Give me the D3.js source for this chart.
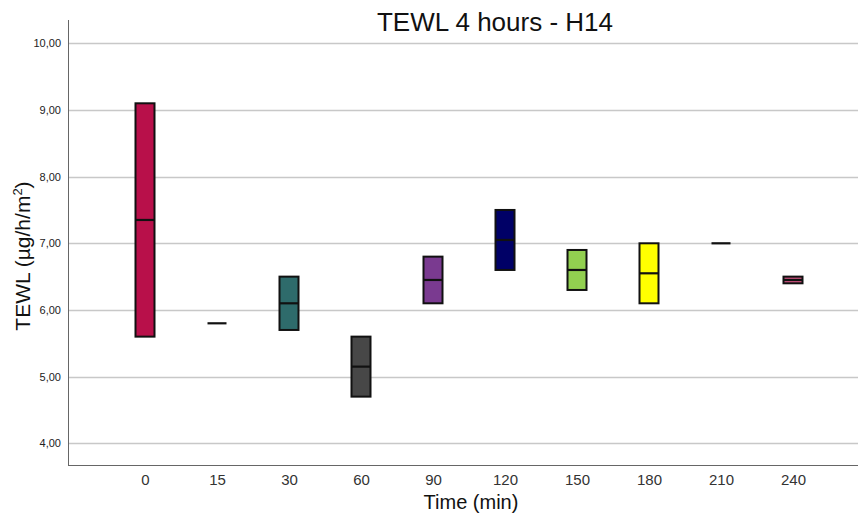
<!DOCTYPE html>
<html>
<head>
<meta charset="utf-8">
<script src="https://cdn.jsdelivr.net/npm/d3@7"></script>
<style>
  html, body { margin: 0; padding: 0; background: #fff; }
  svg { display: block; font-family: Arial, "Liberation Sans", sans-serif; }
</style>
</head>
<body>
<svg id="chart" width="858" height="513"></svg>
<script>
// Sampling times (minutes)
const times = ["0", "15", "30", "60", "90", "120", "150", "180", "210", "240"];
// Box bounds and median per time point
const lowValues    = [5.60, 5.80, 5.70, 4.70, 6.10, 6.60, 6.30, 6.10, 7.00, 6.40];
const medianValues = [7.35, 5.80, 6.10, 5.15, 6.45, 7.05, 6.60, 6.55, 7.00, 6.45];
const highValues   = [9.10, 5.80, 6.50, 5.60, 6.80, 7.50, 6.90, 7.00, 7.00, 6.50];
const boxColors = ["#b8104a", "#b8104a", "#2e6b6b", "#474747", "#7a3a90",
                   "#000066", "#92d050", "#ffff00", "#888888", "#c8507c"];
const yTicks = [4, 5, 6, 7, 8, 9, 10];

const svg = d3.select("#chart");
const plot = { left: 68, right: 858, top: 20, bottom: 465 };

const y = d3.scaleLinear()
  .domain([4 - 21.7 / 66.67, 10 + 23.3 / 66.67])
  .range([plot.bottom, plot.top]);

const x = d3.scalePoint()
  .domain(times)
  .range([145, 793]);

const fmt = v => d3.format(".2f")(v).replace(".", ",");

// Horizontal grid lines
svg.append("g")
  .selectAll("line")
  .data(yTicks)
  .join("line")
  .attr("x1", plot.left).attr("x2", plot.right)
  .attr("y1", d => Math.round(y(d)) + 0.5).attr("y2", d => Math.round(y(d)) + 0.5)
  .attr("stroke", "#c8c8c8").attr("stroke-width", 1.5);

// Y axis
const yAxis = svg.append("g")
  .attr("transform", `translate(${plot.left},0)`)
  .call(d3.axisLeft(y).tickValues(yTicks).tickFormat(fmt).tickSize(0).tickPadding(7));
yAxis.select(".domain").remove();
yAxis.selectAll("text").attr("font-size", 11).attr("fill", "#222");

// X axis labels
const xAxis = svg.append("g")
  .attr("transform", `translate(0,${plot.bottom})`)
  .call(d3.axisBottom(x).tickSize(0).tickPadding(9));
xAxis.select(".domain").remove();
xAxis.selectAll("text").attr("font-size", 15).attr("fill", "#333");

// Axis frame lines
svg.append("line")
  .attr("x1", plot.left + 0.5).attr("x2", plot.left + 0.5)
  .attr("y1", plot.top).attr("y2", plot.bottom)
  .attr("stroke", "#666").attr("stroke-width", 1);
svg.append("line")
  .attr("x1", plot.left).attr("x2", plot.right)
  .attr("y1", plot.bottom + 0.5).attr("y2", plot.bottom + 0.5)
  .attr("stroke", "#666").attr("stroke-width", 1);

// Boxes
const boxW = 19;
const rows = times.map((t, i) => ({
  t, lo: lowValues[i], med: medianValues[i], hi: highValues[i], c: boxColors[i]
}));

const g = svg.append("g");
rows.forEach(d => {
  const cx = x(d.t);
  if (d.hi > d.lo) {
    g.append("rect")
      .attr("x", cx - boxW / 2).attr("y", y(d.hi))
      .attr("width", boxW).attr("height", y(d.lo) - y(d.hi))
      .attr("fill", d.c).attr("stroke", "#111").attr("stroke-width", 2);
  }
  g.append("line")
    .attr("x1", cx - boxW / 2).attr("x2", cx + boxW / 2)
    .attr("y1", y(d.med)).attr("y2", y(d.med))
    .attr("stroke", "#111").attr("stroke-width", 2.2);
});

// Title
svg.append("text")
  .attr("x", 495).attr("y", 31)
  .attr("text-anchor", "middle")
  .attr("font-size", 26).attr("fill", "#111")
  .text("TEWL 4 hours - H14");

// Axis titles
svg.append("text")
  .attr("x", 471).attr("y", 509)
  .attr("text-anchor", "middle")
  .attr("font-size", 20).attr("fill", "#111")
  .text("Time (min)");

const yt = svg.append("text")
  .attr("transform", "translate(30,256) rotate(-90)")
  .attr("text-anchor", "middle")
  .attr("font-size", 21).attr("fill", "#111");
yt.append("tspan").text("TEWL (µg/h/m");
yt.append("tspan").attr("font-size", 13).attr("dy", -8).text("2");
yt.append("tspan").attr("dy", 8).text(")");
</script>
</body>
</html>
